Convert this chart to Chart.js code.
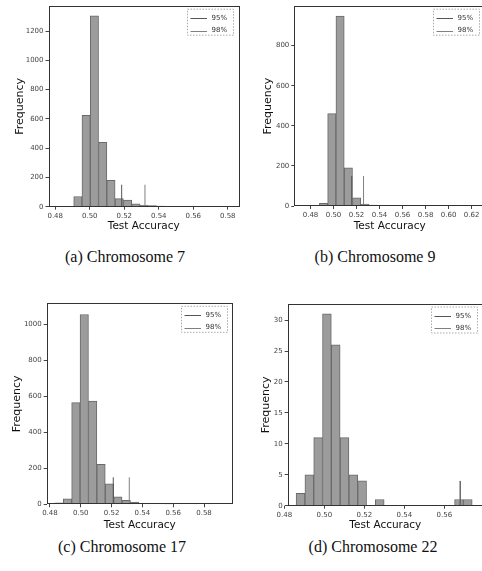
<!DOCTYPE html>
<html><head><meta charset="utf-8">
<script src="https://cdn.jsdelivr.net/npm/chart.js@4.4.0/dist/chart.umd.min.js"></script>
<style>
html,body{margin:0;padding:0;background:#fff;overflow:hidden;width:482px;height:571px;position:relative;}
canvas{position:absolute;}
.cap{position:absolute;width:220px;text-align:center;font-family:"Liberation Serif","Times New Roman",serif;font-size:16px;line-height:20px;color:#111;white-space:nowrap;}
</style></head><body>
<canvas id="ca" width="241" height="233" style="left:0;top:0"></canvas>
<canvas id="cb" width="246" height="233" style="left:241px;top:0"></canvas>
<canvas id="cc" width="241" height="247" style="left:0;top:285px"></canvas>
<canvas id="cd" width="246" height="247" style="left:241px;top:285px"></canvas>
<div class="cap" style="left:15px;top:247px">(a) Chromosome 7</div>
<div class="cap" style="left:265px;top:247px">(b) Chromosome 9</div>
<div class="cap" style="left:12px;top:537px">(c) Chromosome 17</div>
<div class="cap" style="left:263px;top:537px">(d) Chromosome 22</div>
<script>
// ---- data ----
const thresholdLabels = ['95%', '98%'];

const xTicksA = [0.48, 0.50, 0.52, 0.54, 0.56, 0.58];
const yTicksA = [0, 200, 400, 600, 800, 1000, 1200];
const binStartA = 0.4907, binWidthA = 0.0048;
const countsA = [70, 625, 1305, 440, 180, 55, 45, 20, 10, 7, 5, 3];
const thresholdsA = [0.5185, 0.5320];
const markerHeightA = 150;

const xTicksB = [0.48, 0.50, 0.52, 0.54, 0.56, 0.58, 0.60, 0.62];
const yTicksB = [0, 200, 400, 600, 800];
const binStartB = 0.4877, binWidthB = 0.0072;
const countsB = [13, 461, 948, 191, 41, 10, 5, 3, 2, 2, 1, 1, 1];
const thresholdsB = [0.5158, 0.5261];
const markerHeightB = 150;

const xTicksC = [0.48, 0.50, 0.52, 0.54, 0.56, 0.58];
const yTicksC = [0, 200, 400, 600, 800, 1000];
const binStartC = 0.4832, binWidthC = 0.00545;
const countsC = [8, 30, 565, 1055, 574, 222, 114, 42, 22, 12, 5, 3, 2, 1];
const thresholdsC = [0.5211, 0.5315];
const markerHeightC = 150;

const xTicksD = [0.48, 0.50, 0.52, 0.54, 0.56];
const yTicksD = [0, 5, 10, 15, 20, 25, 30];
const binStartD = 0.4859, binWidthD = 0.0044;
const countsD = [2, 5, 11, 31, 26, 11, 5, 4, 0, 1, 0, 0, 0, 0, 0, 0, 0, 0, 1, 1];
const thresholdsD = [0.5679, 0.5679];
const markerHeightD = 4;

// ---- plugins ----
const framePlugin = {
  id: 'frame',
  afterDatasetsDraw(chart) {
    const {ctx, chartArea: a} = chart;
    ctx.save();
    ctx.strokeStyle = '#333';
    ctx.lineWidth = 1;
    ctx.strokeRect(Math.round(a.left) + 0.5, Math.round(a.top) + 0.5,
                   Math.round(a.right - a.left) - 1, Math.round(a.bottom - a.top) - 1);
    ctx.restore();
  }
};
const insideLegend = {
  id: 'insideLegend',
  afterDraw(chart) {
    const {ctx, chartArea: a} = chart;
    const items = chart.data.datasets.filter(d => d.type === 'line');
    const w = 47, h = 27;
    const x0 = a.right - 5 - w, y0 = a.top + 2.5;
    ctx.save();
    ctx.fillStyle = 'rgba(255,255,255,0.9)';
    ctx.fillRect(x0, y0, w, h);
    ctx.setLineDash([1.5, 1.5]);
    ctx.strokeStyle = '#aaa';
    ctx.lineWidth = 1;
    ctx.strokeRect(x0 + 0.5, y0 + 0.5, w - 1, h - 1);
    ctx.setLineDash([]);
    ctx.font = '7px "DejaVu Sans"';
    ctx.textBaseline = 'middle';
    items.forEach((d, i) => {
      const y = y0 + 9.5 + i * 12.3;
      ctx.strokeStyle = d.borderColor;
      ctx.lineWidth = 1;
      ctx.beginPath();
      ctx.moveTo(x0 + 3.5, Math.round(y) + 0.5);
      ctx.lineTo(x0 + 20, Math.round(y) + 0.5);
      ctx.stroke();
      ctx.fillStyle = '#333';
      ctx.fillText(d.label, x0 + 24.5, y);
    });
    ctx.restore();
  }
};

function makeChart(id, c) {
  const bars = c.counts.map((v, i) => ({x: c.binStart + (i + 0.5) * c.binWidth, y: v}));
  const lineColors = ['#555', '#808080'];
  const lines = c.thresholds.map((t, i) => ({
    type: 'line', label: thresholdLabels[i], order: 0,
    data: [{x: t, y: 0}, {x: t, y: c.markerHeight}],
    borderColor: lineColors[i], borderWidth: 1, pointRadius: 0, fill: false
  }));
  const tickFont = {family: 'DejaVu Sans', size: 7};
  new Chart(document.getElementById(id), {
    type: 'bar',
    data: {
      datasets: [...lines, {
        type: 'bar', label: 'hist', order: 1, data: bars,
        backgroundColor: '#9c9c9c', borderColor: '#6a6a6a', borderWidth: 1,
        barPercentage: 1, categoryPercentage: 1, grouped: false
      }]
    },
    options: {
      responsive: false, animation: false, devicePixelRatio: 1,
      layout: {padding: {top: c.padTop, right: c.padRight, left: 0, bottom: 0}},
      plugins: {legend: {display: false}, tooltip: {enabled: false}},
      scales: {
        x: {
          type: 'linear', offset: false, min: c.xMin, max: c.xMax,
          grid: {offset: false, drawOnChartArea: false, drawTicks: true, tickLength: 3, color: '#444'},
          border: {display: false},
          ticks: {font: tickFont, color: '#444', padding: 2, maxRotation: 0, autoSkip: false,
                  callback: v => Number(v).toFixed(2)},
          afterBuildTicks: s => { s.ticks = c.xTicks.map(v => ({value: v})); },
          afterFit: s => { s.height = c.xAxisHeight; },
          title: {display: true, text: 'Test Accuracy', color: '#111',
                  font: {family: 'DejaVu Sans', size: 10.5}, padding: {top: 0, bottom: 0}}
        },
        y: {
          type: 'linear', min: 0, max: c.yMax,
          grid: {drawOnChartArea: false, drawTicks: true, tickLength: 3, color: '#444'},
          border: {display: false},
          ticks: {font: tickFont, color: '#444', padding: 2, callback: v => String(v)},
          afterBuildTicks: s => { s.ticks = c.yTicks.map(v => ({value: v})); },
          afterFit: s => { s.width = c.yAxisWidth; },
          title: {display: true, text: 'Frequency', color: '#111',
                  font: {family: 'DejaVu Sans', size: 11}, padding: {top: c.yTitlePad, bottom: 0}}
        }
      }
    },
    plugins: [framePlugin, insideLegend]
  });
}

makeChart('ca', {binStart: binStartA, binWidth: binWidthA, counts: countsA, thresholds: thresholdsA,
  markerHeight: markerHeightA, xTicks: xTicksA, yTicks: yTicksA, xMin: 0.4761, xMax: 0.5865, yMax: 1370,
  yAxisWidth: 48.5, xAxisHeight: 26.3, padTop: 4.7, padRight: 2, yTitlePad: 13.4});
makeChart('cb', {binStart: binStartB, binWidth: binWidthB, counts: countsB, thresholds: thresholdsB,
  markerHeight: markerHeightB, xTicks: xTicksB, yTicks: yTicksB, xMin: 0.4659, xMax: 0.6317, yMax: 997,
  yAxisWidth: 53.3, xAxisHeight: 27, padTop: 4, padRight: 2, yTitlePad: 20.4});
makeChart('cc', {binStart: binStartC, binWidth: binWidthC, counts: countsC, thresholds: thresholdsC,
  markerHeight: markerHeightC, xTicks: xTicksC, yTicks: yTicksC, xMin: 0.4779, xMax: 0.5988, yMax: 1117,
  yAxisWidth: 46.7, xAxisHeight: 27.7, padTop: 18.3, padRight: 8, yTitlePad: 10.1});
makeChart('cd', {binStart: binStartD, binWidth: binWidthD, counts: countsD, thresholds: thresholdsD,
  markerHeight: markerHeightD, xTicks: xTicksD, yTicks: yTicksD, xMin: 0.4817, xMax: 0.5793, yMax: 32.6,
  yAxisWidth: 46.7, xAxisHeight: 26.3, padTop: 19, padRight: 4, yTitlePad: 18.4});
</script>
</body></html>
